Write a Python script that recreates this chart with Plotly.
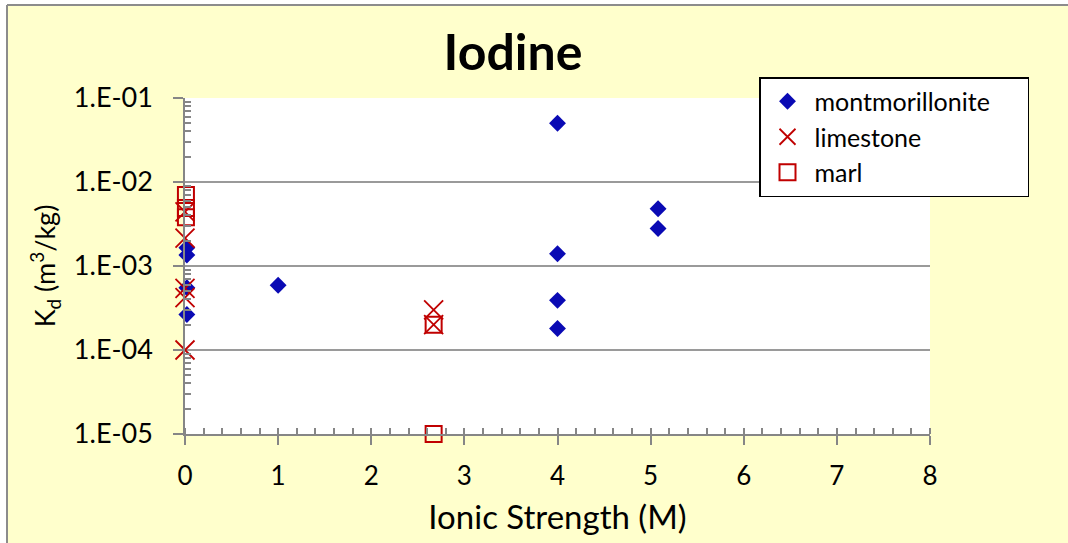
import plotly.graph_objects as go

# Kd of iodine vs ionic strength for three host rocks
mont_x = [0.02, 0.02, 0.02, 0.02, 1.0, 4.0, 4.0, 4.0, 4.0, 5.08, 5.08]
mont_y = [1.65e-3, 1.35e-3, 5.5e-4, 2.65e-4, 5.9e-4, 5.0e-2, 1.4e-3, 3.9e-4, 1.8e-4, 4.8e-3, 2.8e-3]

lime_x = [0.0, 0.0, 0.0, 0.0, 0.0, 2.67, 2.67]
lime_y = [4.4e-3, 2.15e-3, 5.4e-4, 4.2e-4, 1.0e-4, 3.0e-4, 2.0e-4]

marl_x = [0.01, 0.01, 0.01, 2.67, 2.67]
marl_y = [7.0e-3, 4.9e-3, 3.8e-3, 2.0e-4, 1.0e-5]

x_ticks = [0, 1, 2, 3, 4, 5, 6, 7, 8]
y_ticks = [1e-5, 1e-4, 1e-3, 1e-2, 1e-1]
y_ticktext = ["1.E-05", "1.E-04", "1.E-03", "1.E-02", "1.E-01"]

BLUE = "#0A0AB4"
RED = "#C00000"
GREY = "#868686"
FONT = "Lato"

y_minor = [m * d for d in [1e-5, 1e-4, 1e-3, 1e-2] for m in range(2, 10)]

# trailing no-break spaces give the legend box some right-hand padding
PAD = "\u00a0" * 5

fig = go.Figure()
fig.add_trace(go.Scatter(
    x=mont_x, y=mont_y, mode="markers", name="montmorillonite" + PAD,
    marker=dict(symbol="diamond", size=13, color=BLUE),
    cliponaxis=False,
))
fig.add_trace(go.Scatter(
    x=lime_x, y=lime_y, mode="markers", name="limestone",
    marker=dict(symbol="x-thin", size=19, color=RED, line=dict(width=1.8, color=RED)),
    cliponaxis=False,
))
fig.add_trace(go.Scatter(
    x=marl_x, y=marl_y, mode="markers", name="marl",
    marker=dict(symbol="square-open", size=16, color=RED, line=dict(width=2, color=RED)),
    cliponaxis=False,
))

# Chart background panel (yellow area around the white plot) with left/top border
L, R, T, B = 185, 930, 98, 434
W, H = R - L, B - T
px = lambda v: (v - L) / W
py = lambda v: (B - v) / H
fig.add_shape(
    type="rect", xref="paper", yref="paper", layer="below",
    x0=px(7), x1=px(1120), y0=py(600), y1=py(5),
    fillcolor="#FFFFCC", line=dict(width=0),
)
fig.add_shape(type="line", xref="paper", yref="paper", layer="below",
              x0=px(7), x1=px(7), y0=py(600), y1=py(5),
              line=dict(color="#8C8C8C", width=2))
fig.add_shape(type="line", xref="paper", yref="paper", layer="below",
              x0=px(7), x1=px(1120), y0=py(5), y1=py(5),
              line=dict(color="#8C8C8C", width=2))
fig.add_shape(
    type="rect", xref="paper", yref="paper", layer="below",
    x0=0, x1=1, y0=0, y1=1, fillcolor="white", line=dict(width=0),
)

fig.update_layout(
    width=1068, height=543,
    margin=dict(l=L, r=1068 - R, t=T, b=543 - B, pad=0),
    paper_bgcolor="white", plot_bgcolor="rgba(0,0,0,0)",
    font=dict(family=FONT, color="black"),
    title=dict(text="<b>Iodine</b>", font=dict(family=FONT, size=50, color="black"),
               x=513 / 1068, xref="container", xanchor="center",
               y=1 - 52 / 543, yref="container", yanchor="middle"),
    showlegend=True,
    legend=dict(
        x=px(759), y=py(77), xanchor="left", yanchor="top",
        bgcolor="white", bordercolor="black", borderwidth=1.5,
        font=dict(family=FONT, size=25, color="black"),
        itemwidth=44, tracegroupgap=0,
    ),
    xaxis=dict(
        range=[0, 8], tickvals=x_ticks, ticks="outside", ticklen=9, tickwidth=1.5,
        tickcolor=GREY, showline=True, linecolor=GREY, linewidth=1.5,
        showgrid=False, zeroline=False,
        tickfont=dict(family=FONT, size=26, color="black"),
        ticklabelstandoff=9,
        minor=dict(dtick=0.2, ticks="inside", ticklen=6, tickwidth=1.5, tickcolor=GREY, showgrid=False),
        title=dict(text="Ionic Strength (M)", font=dict(family=FONT, size=33, color="black"), standoff=16),
    ),
    xaxis2=dict(
        range=[0, 8], overlaying="x", anchor="y", side="bottom",
        tickvals=x_ticks, ticks="inside", ticklen=10, tickwidth=1.5, tickcolor=GREY,
        showticklabels=False, showline=False, showgrid=False, zeroline=False,
    ),
    yaxis=dict(
        type="log", range=[-5, -1], tickvals=y_ticks, ticktext=y_ticktext,
        ticks="outside", ticklen=10, tickwidth=1.5, tickcolor=GREY,
        showline=True, linecolor=GREY, linewidth=1.5,
        showgrid=True, gridcolor="#9A9A9A", gridwidth=1.5, zeroline=False,
        tickfont=dict(family=FONT, size=27, color="black"),
        ticklabelstandoff=15,
        minor=dict(tickvals=y_minor, ticks="inside", ticklen=6, tickwidth=1.5,
                   tickcolor=GREY, showgrid=False),
        title=dict(text="K<sub>d</sub> (m<sup>3</sup>/kg)",
                   font=dict(family=FONT, size=27, color="black"), standoff=10),
    ),
)

fig.write_html(
    "out.html",
    config={"displayModeBar": False},
    post_script="document.body.style.margin='0';document.body.style.overflow='hidden';",
)
